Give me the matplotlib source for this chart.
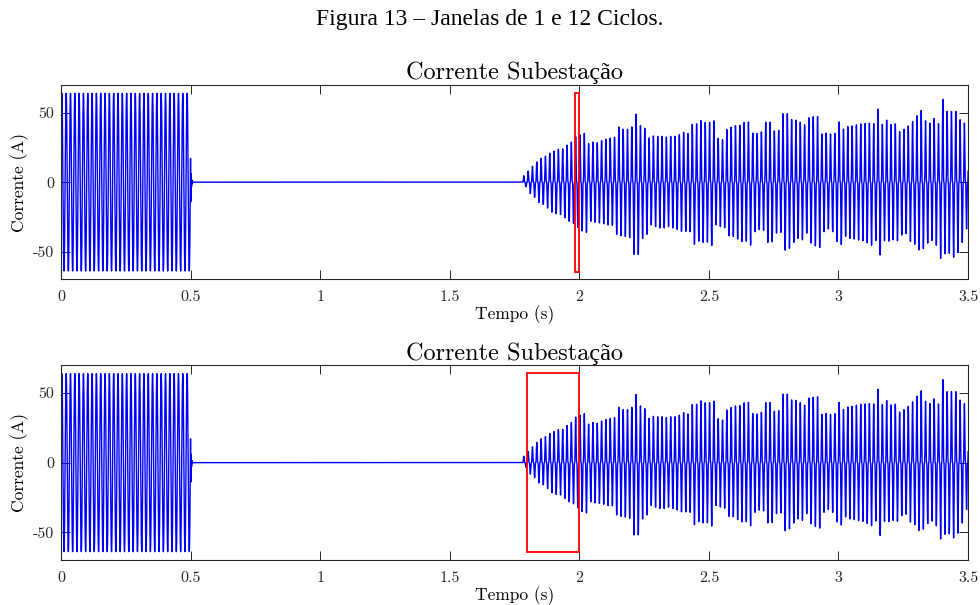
import numpy as np
import matplotlib
matplotlib.use("Agg")
import matplotlib.pyplot as plt
from matplotlib.patches import Rectangle

# --- signal description -------------------------------------------------
F_HZ = 60.0
PRE_PEAK = 64.0          # steady-state peak current before the opening [A]
PRE_PHASE = 0.27         # phase at t = 0 [rad]
PRE_END = 0.5            # breaker opens [s]

# ring-down right after the opening
RING_T = [0.5, 0.5012, 0.5025, 0.504, 0.5055, 0.507, 0.51]
RING_I = [17.5, -14.0, 6.0, -3.0, 1.5, -0.5, 0.0]

RECLOSE_T = 1.786        # first positive peak after reclosing [s]

# per-cycle positive peaks after reclosing [A]
PEAKS = [
    4.6, 8.0, 11.4, 14.6, 17.2, 18.7, 20.9, 22.3, 23.8, 24.0, 26.7, 28.9,
    32.8, 34.0, 35.2, 27.7, 28.9, 28.4, 29.9, 31.0, 31.8, 32.3, 39.8, 38.1,
    38.1, 39.8, 49.0, 40.8, 38.8, 31.8, 33.3, 33.0, 33.0, 32.5, 33.0, 33.0,
    34.2, 35.9, 35.0, 41.7, 42.0, 44.4, 43.0, 43.2, 44.2, 31.6, 30.6, 37.9,
    39.6, 40.8, 41.0, 43.0, 43.4, 35.4, 35.0, 36.2, 43.2, 43.2, 36.9, 37.4,
    49.3, 49.3, 45.1, 44.7, 43.2, 41.3, 46.4, 47.1, 47.3,
    34.7, 35.4, 34.7, 35.2, 43.4, 38.3, 40.0, 40.5, 41.3, 42.0, 42.2, 42.5,
    42.2, 52.7, 41.7, 44.7, 41.5, 42.0, 36.4, 38.1, 40.5, 43.7, 47.8, 51.7,
    44.2, 42.5, 45.9, 42.2, 59.7, 51.0, 51.0, 51.0, 45.0, 42.5, 34.7,
]
# per-cycle negative peaks after reclosing [A]
TROUGHS = [
    -3.4, -8.3, -10.9, -14.6, -16.0, -18.7, -21.6, -22.8, -23.3, -25.7,
    -28.2, -29.6, -32.5, -35.2, -36.2, -28.2, -28.9, -29.4, -29.9, -30.8,
    -31.1, -37.6, -38.6, -39.1, -40.0, -52.0, -52.0, -40.5, -37.6, -30.8,
    -32.0, -33.0, -33.0, -32.0, -33.0, -34.0,
    -35.4, -35.4, -35.7, -44.7, -42.5, -43.4, -43.2, -45.6, -30.8, -32.0,
    -32.8, -38.6, -39.0, -41.0, -42.7, -42.5, -45.4, -35.7, -34.2, -34.7,
    -43.4, -43.0, -36.7, -36.2, -49.0, -47.6, -43.4, -40.5, -41.5, -36.7,
    -43.9, -45.9, -47.1, -35.7,
    -33.7, -35.7, -42.7, -44.9, -39.0, -40.5, -41.0, -41.7, -42.2, -43.7,
    -45.4, -42.0, -52.4, -42.2, -42.5, -41.5, -42.2, -38.1, -37.1, -42.7,
    -44.7, -48.8, -47.8, -43.9, -42.0, -45.4, -54.9, -51.5, -51.2, -54.1,
    -50.7, -43.4, -33.7, -46.0,
]

# analysis windows (1 cycle and 12 cycles ending at t = 2 s)
WINDOWS = [(2.0 - 1 / 60, 2.0), (1.8, 2.0)]
WIN_AMP = 64.5

XTICKS = [0, 0.5, 1, 1.5, 2, 2.5, 3, 3.5]
XTICK_LABELS = ["0", "0.5", "1", "1.5", "2", "2.5", "3", "3.5"]
YTICKS = [-50, 0, 50]
YTICK_LABELS = ["-50", "0", "50"]

INK = "#262626"
CM = ["cmr10", "Liberation Serif"]   # cmr10 has no ç / ã

plt.rcParams.update({
    "font.family": CM,
    "axes.unicode_minus": False,
    "axes.edgecolor": INK, "axes.linewidth": 0.8,
    "xtick.color": INK, "ytick.color": INK,
    "xtick.direction": "in", "ytick.direction": "in",
    "xtick.top": True, "ytick.right": True,
    "xtick.major.size": 6.5, "ytick.major.size": 6.5,
    "xtick.major.width": 0.7, "ytick.major.width": 0.7,
    "xtick.major.pad": 8, "ytick.major.pad": 5,
})


def build_current(spc=48):
    t_pre = np.linspace(0, PRE_END, int(PRE_END * F_HZ * spc) + 1)
    i_pre = PRE_PEAK * np.sin(2 * np.pi * F_HZ * t_pre + PRE_PHASE)

    start = RECLOSE_T - 1 / (4 * F_HZ)
    peaks = np.array(PEAKS)
    troughs = np.array(TROUGHS)
    n = len(peaks)
    idx = np.arange(n * spc)
    t_post = start + idx / (F_HZ * spc)
    k = idx // spc
    s = np.sin(2 * np.pi * F_HZ * (t_post - start))
    shape = np.abs(s) ** 3
    i_post = np.where(s >= 0, shape * peaks[k], shape * troughs[k])

    t = np.concatenate([t_pre, RING_T[1:], [start], t_post])
    i = np.concatenate([i_pre, RING_I[1:], [0.0], i_post])
    return t, i


def panel(ax, t, i, win):
    ax.plot(t, i, color="#0000ff", lw=1.0)
    x0, x1 = win
    ax.add_patch(Rectangle((x0, -WIN_AMP), x1 - x0, 2 * WIN_AMP,
                           fill=False, edgecolor="#ff0000", lw=1.3, zorder=3))
    ax.set_xlim(0, 3.5)
    ax.set_ylim(-70, 70)
    ax.set_xticks(XTICKS, XTICK_LABELS, fontsize=11.5)
    ax.set_yticks(YTICKS, YTICK_LABELS, fontsize=11.5)
    ax.set_title("Corrente Subestação", fontsize=17.5, color="black", pad=4)
    ax.set_xlabel("Tempo (s)", fontsize=12.5, labelpad=1)
    ax.set_ylabel("Corrente (A)", fontsize=12.5, labelpad=3)


t, i = build_current()

fig = plt.figure(figsize=(9.8, 6.05), dpi=100)
ax1 = fig.add_axes([0.0622, 0.5383, 0.9256, 0.3212])
ax2 = fig.add_axes([0.0622, 0.0744, 0.9256, 0.3218])
panel(ax1, t, i, WINDOWS[0])
panel(ax2, t, i, WINDOWS[1])

fig.text(0.5, 0.967, "Figura 13 – Janelas de 1 e 12 Ciclos.", ha="center",
         va="center", fontsize=17, family="Liberation Serif")

fig.savefig("out.png", dpi=100)
